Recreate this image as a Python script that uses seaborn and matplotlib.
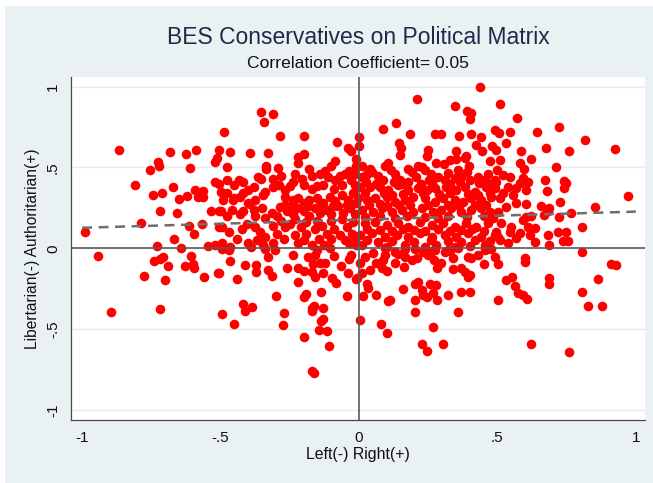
import matplotlib
matplotlib.use("Agg")
import matplotlib.pyplot as plt
import seaborn as sns
import pandas as pd
from matplotlib.patches import Rectangle

# ---- data (Left-Right score, Libertarian-Authoritarian score) ----
far_left_upper = [
    (-0.99, 0.10), (-0.867, 0.608), (-0.684, 0.594), (-0.625, 0.585), (-0.59, 0.606),
    (-0.725, 0.536), (-0.723, 0.511), (-0.756, 0.485), (-0.61, 0.495), (-0.521, 0.536),
    (-0.513, 0.56), (-0.81, 0.39), (-0.745, 0.332), (-0.711, 0.344), (-0.671, 0.377),
    (-0.651, 0.303), (-0.62, 0.322), (-0.591, 0.361), (-0.565, 0.355), (-0.58, 0.32),
    (-0.565, 0.32), (-0.521, 0.412), (-0.507, 0.40), (-0.717, 0.229), (-0.657, 0.217),
    (-0.533, 0.231), (-0.507, 0.23), (-0.786, 0.159), (-0.615, 0.14), (-0.566, 0.148),
    (-0.595, 0.09), (-0.667, 0.06), (-0.729, 0.014), (-0.545, 0.014), (-0.52, 0.02),
    (-0.507, 0.13), (-0.507, 0.61), (-0.641, 0.0),
]

far_left_lower = [
    (-0.942, -0.046), (-0.709, -0.056), (-0.741, -0.079), (-0.717, -0.066),
    (-0.608, -0.046), (-0.63, -0.108), (-0.595, -0.12), (-0.60, -0.095), (-0.691, -0.108),
    (-0.775, -0.173), (-0.701, -0.198), (-0.561, -0.179), (-0.51, -0.155),
    (-0.895, -0.394), (-0.717, -0.374),
]

centre_left_upper = [
    (-0.353, 0.841), (-0.312, 0.833), (-0.342, 0.78), (-0.489, 0.722), (-0.287, 0.697),
    (-0.20, 0.697), (-0.079, 0.658), (-0.466, 0.594), (-0.395, 0.59), (-0.33, 0.59),
    (-0.221, 0.567), (-0.197, 0.584), (-0.22, 0.53), (-0.335, 0.51), (-0.335, 0.49),
    (-0.294, 0.499), (-0.179, 0.489), (-0.477, 0.505), (-0.085, 0.54), (-0.10, 0.51),
    (-0.04, 0.62), (-0.03, 0.60), (-0.01, 0.55), (-0.01, 0.51),
    (-0.477, 0.423), (-0.435, 0.42), (-0.419, 0.41), (-0.365, 0.44), (-0.353, 0.43),
    (-0.311, 0.43), (-0.267, 0.36), (-0.24, 0.41), (-0.204, 0.43), (-0.152, 0.385),
    (-0.123, 0.48), (-0.111, 0.44), (-0.085, 0.42), (-0.05, 0.46), (-0.035, 0.48),
    (-0.03, 0.42), (-0.50, 0.35), (-0.477, 0.34), (-0.453, 0.31), (-0.42, 0.34),
    (-0.399, 0.36), (-0.34, 0.35), (-0.345, 0.33), (-0.31, 0.38), (-0.49, 0.30),
    (-0.455, 0.30), (-0.43, 0.32), (-0.40, 0.28), (-0.375, 0.30), (-0.267, 0.32),
    (-0.24, 0.30), (-0.22, 0.31), (-0.20, 0.28), (-0.18, 0.30), (-0.15, 0.31),
    (-0.13, 0.28), (-0.105, 0.32), (-0.085, 0.29), (-0.06, 0.33), (-0.04, 0.30),
    (-0.02, 0.34), (-0.50, 0.23), (-0.477, 0.20), (-0.43, 0.21), (-0.42, 0.23),
    (-0.395, 0.275), (-0.375, 0.20), (-0.35, 0.25), (-0.34, 0.19), (-0.315, 0.22),
    (-0.297, 0.20), (-0.267, 0.27), (-0.26, 0.23), (-0.237, 0.21), (-0.225, 0.25),
    (-0.20, 0.23), (-0.18, 0.20), (-0.16, 0.25), (-0.14, 0.22), (-0.115, 0.24),
    (-0.10, 0.21), (-0.075, 0.26), (-0.057, 0.22), (-0.033, 0.25), (-0.015, 0.21),
    (-0.495, 0.13), (-0.47, 0.10), (-0.422, 0.12), (-0.405, 0.15), (-0.375, 0.13),
    (-0.357, 0.10), (-0.34, 0.07), (-0.31, 0.14), (-0.297, 0.09), (-0.267, 0.13),
    (-0.25, 0.15), (-0.23, 0.08), (-0.21, 0.13), (-0.19, 0.09), (-0.16, 0.12),
    (-0.135, 0.14), (-0.117, 0.09), (-0.09, 0.12), (-0.07, 0.08), (-0.045, 0.13),
    (-0.025, 0.09), (-0.495, 0.03), (-0.465, 0.01), (-0.40, 0.03), (-0.39, 0.01),
    (-0.345, 0.02), (-0.31, 0.03), (-0.22, 0.03), (-0.17, 0.02), (-0.125, 0.02),
    (-0.035, 0.03), (-0.01, 0.02),
    (-0.28, 0.45), (-0.23, 0.46), (-0.17, 0.45), (-0.14, 0.46), (-0.07, 0.445),
    (-0.015, 0.46), (-0.29, 0.39), (-0.25, 0.385), (-0.20, 0.39), (-0.17, 0.37),
    (-0.13, 0.39), (-0.09, 0.37), (-0.06, 0.39), (-0.015, 0.39), (-0.285, 0.255),
    (-0.24, 0.27), (-0.185, 0.26), (-0.14, 0.265), (-0.095, 0.26), (-0.045, 0.27),
    (-0.01, 0.28), (-0.28, 0.17), (-0.23, 0.18), (-0.19, 0.165), (-0.15, 0.17),
    (-0.10, 0.17), (-0.06, 0.18), (-0.02, 0.16), (-0.27, 0.06), (-0.20, 0.05),
    (-0.145, 0.055), (-0.10, 0.06), (-0.05, 0.05), (-0.015, 0.06), (-0.45, 0.39),
    (-0.38, 0.38), (-0.46, 0.24), (-0.38, 0.24), (-0.44, 0.06), (-0.37, 0.05),
]

centre_left_lower = [
    (-0.505, -0.151), (-0.465, -0.077), (-0.441, -0.192), (-0.413, -0.103),
    (-0.371, -0.103), (-0.371, -0.145), (-0.33, -0.052), (-0.327, -0.134),
    (-0.315, -0.17), (-0.30, -0.295), (-0.26, -0.124), (-0.495, -0.407), (-0.45, -0.47),
    (-0.42, -0.346), (-0.413, -0.388), (-0.387, -0.361), (-0.271, -0.402),
    (-0.275, -0.477), (-0.221, -0.12), (-0.20, -0.14), (-0.219, -0.21), (-0.185, -0.052),
    (-0.159, -0.041), (-0.165, -0.099), (-0.17, -0.145), (-0.159, -0.176), (-0.14, -0.09),
    (-0.123, -0.09), (-0.129, -0.15), (-0.20, -0.30), (-0.193, -0.28), (-0.137, -0.268),
    (-0.168, -0.37), (-0.161, -0.36), (-0.17, -0.39), (-0.129, -0.37), (-0.137, -0.45),
    (-0.129, -0.44), (-0.144, -0.505), (-0.116, -0.51), (-0.20, -0.547), (-0.108, -0.605),
    (-0.17, -0.76), (-0.161, -0.774), (-0.065, -0.11), (-0.041, -0.151), (-0.042, -0.295),
    (-0.098, -0.186), (-0.084, -0.217), (-0.035, -0.065), (-0.03, -0.04), (-0.01, -0.19),
    (-0.495, -0.005), (-0.47, -0.01), (-0.34, -0.005), (-0.305, -0.01), (-0.15, -0.01),
    (-0.105, 0.0), (-0.24, -0.04), (-0.09, -0.05),
]

centre_right_upper = [
    (0.436, 1.0), (0.208, 0.922), (0.348, 0.88), (0.39, 0.85), (0.406, 0.84), (0.40, 0.80),
    (0.088, 0.736), (0.132, 0.777), (0.184, 0.707), (0.0, 0.687), (0.0, 0.63),
    (0.276, 0.707), (0.298, 0.707), (0.36, 0.697), (0.406, 0.71), (0.44, 0.69),
    (0.49, 0.735), (0.145, 0.653), (0.153, 0.618), (0.148, 0.577), (0.25, 0.61),
    (0.244, 0.57), (0.352, 0.60), (0.382, 0.56), (0.424, 0.64), (0.444, 0.605),
    (0.48, 0.635), (0.473, 0.54), (0.01, 0.51), (0.04, 0.49), (0.106, 0.53), (0.094, 0.51),
    (0.178, 0.49), (0.214, 0.51), (0.226, 0.50), (0.28, 0.53), (0.307, 0.52), (0.33, 0.545),
    (0.35, 0.555), (0.358, 0.485), (0.398, 0.51), (0.386, 0.57), (0.50, 0.485),
    (0.01, 0.443), (0.046, 0.474), (0.088, 0.422), (0.115, 0.485), (0.148, 0.422),
    (0.178, 0.412), (0.205, 0.443), (0.238, 0.485), (0.252, 0.422), (0.286, 0.443),
    (0.312, 0.422), (0.346, 0.432), (0.37, 0.443), (0.40, 0.422), (0.43, 0.443),
    (0.454, 0.422), (0.49, 0.422),
    (0.004, 0.381), (0.04, 0.381), (0.076, 0.381), (0.106, 0.361), (0.142, 0.392),
    (0.178, 0.361), (0.214, 0.371), (0.244, 0.361), (0.274, 0.371), (0.316, 0.381),
    (0.352, 0.361), (0.382, 0.381), (0.418, 0.35), (0.46, 0.381), (0.49, 0.371),
    (-0.002, 0.31), (0.028, 0.299), (0.058, 0.31), (0.10, 0.32), (0.13, 0.289),
    (0.166, 0.299), (0.196, 0.32), (0.238, 0.31), (0.274, 0.289), (0.304, 0.31),
    (0.346, 0.299), (0.376, 0.289), (0.406, 0.31), (0.442, 0.299), (0.478, 0.32),
    (0.01, 0.237), (0.052, 0.227), (0.082, 0.247), (0.118, 0.227), (0.154, 0.237),
    (0.196, 0.227), (0.226, 0.247), (0.268, 0.227), (0.298, 0.237), (0.334, 0.247),
    (0.37, 0.227), (0.406, 0.237), (0.442, 0.247), (0.472, 0.227),
    (0.022, 0.155), (0.058, 0.165), (0.10, 0.144), (0.142, 0.155), (0.178, 0.134),
    (0.22, 0.165), (0.262, 0.144), (0.304, 0.155), (0.346, 0.134), (0.388, 0.155),
    (0.424, 0.134), (0.466, 0.155),
    (0.004, 0.082), (0.046, 0.093), (0.094, 0.072), (0.136, 0.082), (0.178, 0.072),
    (0.22, 0.093), (0.262, 0.072), (0.31, 0.082), (0.352, 0.072), (0.394, 0.093),
    (0.442, 0.072), (0.49, 0.082),
    (0.01, 0.021), (0.10, 0.01), (0.166, 0.021), (0.238, 0.01), (0.28, 0.021),
    (0.346, 0.01), (0.40, 0.015), (0.454, 0.021),
    (0.03, 0.46), (0.07, 0.45), (0.13, 0.46), (0.19, 0.47), (0.26, 0.46), (0.32, 0.465),
    (0.39, 0.47), (0.465, 0.46), (0.025, 0.41), (0.06, 0.40), (0.125, 0.41),
    (0.16, 0.395), (0.225, 0.40), (0.265, 0.405), (0.33, 0.40), (0.365, 0.41),
    (0.435, 0.405), (0.475, 0.395), (0.02, 0.34), (0.09, 0.345), (0.12, 0.33),
    (0.16, 0.335), (0.23, 0.34), (0.29, 0.335), (0.33, 0.345), (0.395, 0.335),
    (0.43, 0.33), (0.475, 0.345), (0.035, 0.265), (0.075, 0.275), (0.10, 0.26),
    (0.145, 0.265), (0.185, 0.27), (0.25, 0.27), (0.32, 0.265), (0.36, 0.26),
    (0.42, 0.27), (0.46, 0.265), (0.02, 0.195), (0.075, 0.20), (0.13, 0.19),
    (0.175, 0.20), (0.24, 0.195), (0.285, 0.19), (0.32, 0.20), (0.39, 0.195),
    (0.45, 0.20), (0.485, 0.19), (0.03, 0.12), (0.075, 0.115), (0.12, 0.11),
    (0.16, 0.12), (0.20, 0.115), (0.24, 0.11), (0.285, 0.12), (0.33, 0.105),
    (0.37, 0.115), (0.41, 0.12), (0.45, 0.11), (0.03, 0.05), (0.07, 0.04),
    (0.12, 0.045), (0.20, 0.04), (0.26, 0.05), (0.32, 0.045), (0.37, 0.04),
    (0.42, 0.05), (0.475, 0.045),
]

centre_right_lower = [
    (0.004, -0.444), (0.078, -0.47), (0.102, -0.522), (0.202, -0.392), (0.266, -0.489),
    (0.226, -0.594), (0.246, -0.633), (0.304, -0.592), (0.358, -0.392), (0.016, -0.293),
    (0.034, -0.244), (0.028, -0.223), (0.06, -0.289), (0.112, -0.32), (0.106, -0.326),
    (0.158, -0.25), (0.202, -0.223), (0.214, -0.206), (0.202, -0.32), (0.226, -0.258),
    (0.232, -0.289), (0.244, -0.30), (0.256, -0.223), (0.28, -0.227), (0.268, -0.279),
    (0.283, -0.32), (0.322, -0.289), (0.37, -0.268), (0.402, -0.268), (0.502, -0.32),
    (-0.008, -0.186), (0.004, -0.093), (0.04, -0.134), (0.01, -0.155), (0.022, -0.052),
    (0.082, -0.124), (0.10, -0.14), (0.088, -0.072), (0.094, -0.041), (0.13, -0.093),
    (0.163, -0.113), (0.166, -0.052), (0.19, -0.072), (0.232, -0.02), (0.272, -0.072),
    (0.283, -0.124), (0.298, -0.093), (0.338, -0.13), (0.37, -0.124), (0.382, -0.145),
    (0.394, -0.175), (0.40, -0.165), (0.394, -0.052), (0.406, -0.062), (0.49, -0.052),
    (0.502, -0.10), (0.094, 0.0), (0.13, -0.02), (0.166, -0.005), (0.202, -0.005),
    (0.274, -0.01), (0.322, -0.01), (0.358, 0.0), (0.454, -0.01), (0.478, -0.005),
    (0.265, -0.015), (0.31, -0.02), (0.33, -0.015), (0.05, -0.03), (0.06, -0.09),
    (0.14, -0.035), (0.21, -0.06), (0.25, -0.04), (0.34, -0.06), (0.43, -0.04),
    (0.45, -0.10),
]

far_right_upper = [
    (0.508, 0.891), (0.571, 0.808), (0.544, 0.722), (0.505, 0.712), (0.643, 0.722),
    (0.721, 0.753), (0.532, 0.649), (0.676, 0.619), (0.758, 0.602), (0.818, 0.67),
    (0.924, 0.612), (0.586, 0.604), (0.62, 0.552), (0.496, 0.608), (0.508, 0.547),
    (0.58, 0.526), (0.596, 0.489), (0.712, 0.506), (0.52, 0.453), (0.544, 0.443),
    (0.592, 0.432), (0.61, 0.412), (0.58, 0.402), (0.673, 0.422), (0.68, 0.354),
    (0.742, 0.418), (0.748, 0.402), (0.742, 0.371), (0.496, 0.412), (0.538, 0.381),
    (0.568, 0.371), (0.604, 0.361), (0.52, 0.34), (0.508, 0.31), (0.556, 0.33),
    (0.604, 0.274), (0.568, 0.282), (0.657, 0.262), (0.682, 0.233), (0.688, 0.247),
    (0.725, 0.289), (0.766, 0.216), (0.853, 0.255), (0.973, 0.325), (0.532, 0.257),
    (0.502, 0.227), (0.604, 0.196), (0.592, 0.175), (0.622, 0.2), (0.67, 0.206),
    (0.724, 0.192), (0.805, 0.134), (0.514, 0.155), (0.55, 0.134), (0.544, 0.103),
    (0.61, 0.134), (0.634, 0.124), (0.58, 0.093), (0.568, 0.062), (0.616, 0.082),
    (0.682, 0.082), (0.718, 0.103), (0.748, 0.103), (0.736, 0.045), (0.756, 0.045),
    (0.634, 0.041), (0.685, 0.021), (0.508, 0.052), (0.538, 0.031), (0.496, 0.10),
    (0.502, 0.072),
]

far_right_lower = [
    (0.805, -0.025), (0.911, -0.10), (0.929, -0.103), (0.598, -0.062), (0.598, -0.087),
    (0.53, -0.196), (0.553, -0.175), (0.565, -0.233), (0.574, -0.279), (0.592, -0.289),
    (0.607, -0.314), (0.685, -0.186), (0.685, -0.223), (0.865, -0.19), (0.805, -0.27),
    (0.828, -0.36), (0.876, -0.36), (0.62, -0.592), (0.759, -0.644),
]

fit_x = [-1.0, 1.0]
fit_y = [0.127, 0.227]

tick_values = [-1, -0.5, 0, 0.5, 1]
tick_labels = ["-1", "-.5", "0", ".5", "1"]

title = "BES Conservatives on Political Matrix"
subtitle = "Correlation Coefficient= 0.05"
x_label = "Left(-) Right(+)"
y_label = "Libertarian(-) Authoritarian(+)"

# ---- build frame ----
groups = (far_left_upper + far_left_lower + centre_left_upper + centre_left_lower +
          centre_right_upper + centre_right_lower + far_right_upper + far_right_lower)
df = pd.DataFrame(groups, columns=["left_right", "lib_auth"])
fit_df = pd.DataFrame({"x": fit_x, "y": fit_y})

sns.set_theme(style="white")
plt.rcParams["font.family"] = ["Liberation Sans", "DejaVu Sans"]

BG = "#E9F1F3"
AX_COL = "#4A4A4A"
W, H = 653, 483

fig = plt.figure(figsize=(W / 100, H / 100), dpi=100, facecolor=BG)
fig.patches.append(Rectangle((0, 1 - 6 / H), 1, 6 / H, transform=fig.transFigure,
                             facecolor="white", edgecolor="none", zorder=-1))
fig.patches.append(Rectangle((0, 0), 5 / W, 1, transform=fig.transFigure,
                             facecolor="white", edgecolor="none", zorder=-1))

ax = fig.add_axes([71 / W, 1 - 420 / H, 574 / W, 343 / H])
ax.set_facecolor("white")

sns.scatterplot(data=df, x="left_right", y="lib_auth", color="#FF0000", s=48,
                linewidth=0, ax=ax, zorder=3, legend=False)
ax.axhline(0, color="#5A5A5A", lw=1.2, zorder=4)
ax.axvline(0, color="#5A5A5A", lw=1.2, zorder=4)
sns.lineplot(data=fit_df, x="x", y="y", ax=ax, color="#6E6E6E", lw=1.8,
             linestyle=(0, (4, 2.6)), zorder=5)

ax.set_xlim(-1.04, 1.033)
ax.set_ylim(-1.0625, 1.06)
ax.set_xticks(tick_values)
ax.set_xticklabels(tick_labels)
ax.set_yticks(tick_values)
ax.set_yticklabels(tick_labels, rotation=90, va="center")

ax.yaxis.grid(True, color="#E4ECEF", lw=1.0, zorder=0)
ax.xaxis.grid(False)
ax.set_axisbelow(True)

for side in ["top", "right"]:
    ax.spines[side].set_visible(False)
for side in ["left", "bottom"]:
    ax.spines[side].set_color(AX_COL)
    ax.spines[side].set_linewidth(0.9)

ax.tick_params(axis="both", direction="out", length=5, width=0.9, color=AX_COL,
               labelsize=11, labelcolor="#111111", pad=3)

ax.set_xlabel(x_label, fontsize=11.4, color="#111111")
ax.xaxis.set_label_coords(0.5, -(455 - 420) / 343)
ax.xaxis.label.set_va("center")
ax.set_ylabel(y_label, fontsize=11.2, color="#111111")
ax.yaxis.set_label_coords(-(71 - 33) / 574, 0.5)
ax.yaxis.label.set_va("center")

fig.text(358 / W, 1 - 38 / H, title, ha="center", va="center", fontsize=16.5,
         color="#1E2B48")
fig.text(358 / W, 1 - 63 / H, subtitle, ha="center", va="center", fontsize=12.6,
         color="#111111")

fig.savefig("out.png", dpi=100, facecolor=BG)
